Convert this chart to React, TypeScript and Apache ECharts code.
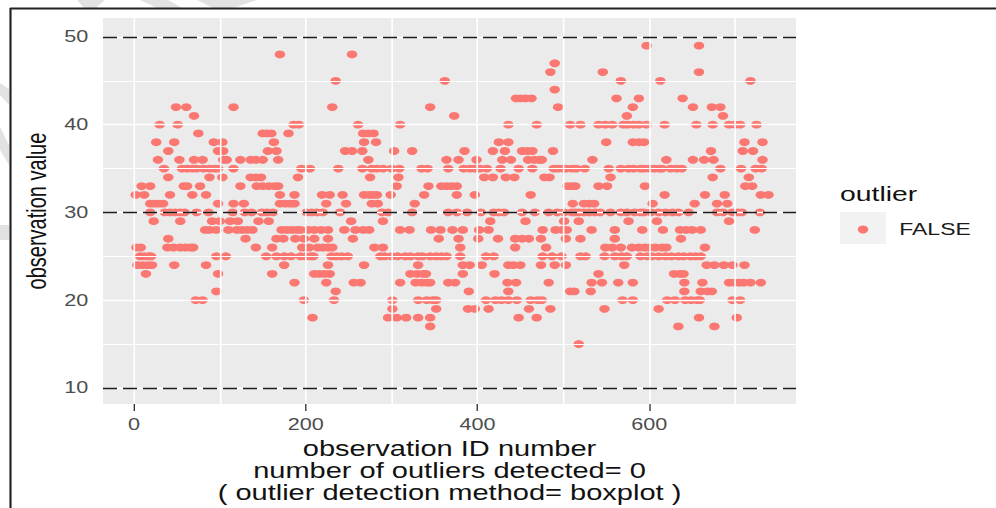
import React, { useEffect, useRef } from "react";
import * as echarts from "echarts";

// The source picture is a horizontally stretched screenshot, so the whole chart is stretched the same way.
const stretch = 1.35;
const pageW = 996;
const pageH = 508;
const sx = (x: number) => x / stretch;

const xTickValues = [0, 200, 400, 600];
const xGridMajor = [0, 200, 400, 600];
const xGridMinor = [100, 300, 500, 700];
const yTickValues = [10, 20, 30, 40, 50];
const yGridMinor = [15, 25, 35, 45];
const thresholds = [10, 30, 50];

const idsAt49 = [597, 658];
const idsAt48 = [170, 254];
const idsAt47 = [490];
const idsAt46 = [485, 546, 658];
const idsAt45 = [235, 362, 567, 613, 718];
const idsAt44 = [490];
const idsAt43 = [445, 450, 456, 463, 562, 588, 639];
const idsAt42 = [49, 61, 116, 231, 345, 494, 581, 651, 673, 683];
const idsAt41 = [70, 373, 574, 686];
const idsAt40 = [30, 51, 186, 192, 261, 310, 436, 469, 508, 520, 541, 549, 557, 570, 575, 582, 588, 597, 618, 655, 674, 693, 700, 706, 725];
const idsAt39 = [75, 150, 155, 160, 180, 267, 273, 279];
const idsAt38 = [26, 47, 93, 103, 163, 268, 282, 425, 436, 550, 581, 588, 594, 711, 732];
const idsAt37 = [40, 98, 104, 156, 166, 246, 254, 266, 303, 324, 385, 418, 432, 452, 458, 464, 488, 672, 709, 721];
const idsAt36 = [28, 53, 70, 80, 104, 108, 124, 136, 142, 150, 168, 273, 364, 378, 399, 429, 439, 459, 466, 472, 475, 534, 620, 651, 664, 675, 732];
const idsAt35 = [35, 56, 62, 68, 73, 81, 88, 94, 98, 116, 195, 205, 238, 266, 277, 283, 290, 300, 309, 335, 342, 366, 384, 391, 397, 403, 411, 427, 448, 464, 489, 494, 500, 503, 510, 515, 525, 553, 567, 576, 582, 590, 594, 600, 606, 612, 615, 625, 632, 638, 683, 707, 724, 731];
const idsAt34 = [40, 88, 103, 136, 142, 148, 191, 275, 308, 408, 418, 433, 443, 478, 484, 555, 674, 716];
const idsAt33 = [9, 19, 58, 62, 77, 124, 143, 150, 157, 164, 168, 306, 343, 358, 364, 370, 376, 505, 510, 514, 541, 551, 595, 712, 720];
const idsAt32 = [2, 12, 42, 68, 84, 170, 187, 219, 228, 243, 268, 274, 279, 283, 299, 338, 376, 397, 462, 618, 665, 688, 730, 739];
const idsAt31 = [19, 24, 29, 34, 98, 116, 128, 170, 176, 182, 187, 224, 247, 277, 284, 327, 511, 524, 530, 536, 604, 653, 679, 691];
const idsAt30 = [19, 36, 42, 48, 54, 59, 73, 87, 115, 129, 137, 149, 155, 162, 201, 207, 213, 220, 240, 289, 296, 324, 366, 376, 388, 404, 419, 425, 431, 452, 467, 483, 493, 501, 510, 514, 518, 524, 530, 537, 543, 555, 567, 574, 583, 590, 594, 602, 611, 619, 627, 634, 646, 679, 686, 697, 703, 708, 729];
const idsAt29 = [23, 54, 91, 100, 112, 121, 145, 157, 253, 290, 415, 456, 501, 518, 576, 609, 693];
const idsAt28 = [83, 88, 96, 110, 120, 126, 132, 138, 172, 178, 184, 190, 194, 203, 210, 218, 226, 245, 258, 267, 274, 310, 321, 346, 357, 371, 383, 402, 413, 476, 491, 499, 504, 533, 560, 592, 616, 636, 643, 650, 660, 723];
const idsAt27 = [40, 130, 166, 174, 188, 198, 210, 226, 255, 355, 378, 401, 424, 444, 452, 460, 474, 503, 520, 560, 637];
const idsAt26 = [3, 8, 39, 46, 54, 60, 66, 69, 142, 161, 196, 204, 214, 220, 226, 231, 280, 290, 380, 444, 480, 549, 557, 567, 580, 588, 595, 600, 607, 615, 620, 665];
const idsAt25 = [7, 12, 17, 20, 96, 107, 154, 166, 175, 183, 194, 200, 206, 209, 230, 236, 242, 249, 287, 292, 300, 307, 316, 322, 331, 336, 345, 352, 358, 364, 380, 410, 419, 476, 487, 498, 520, 526, 548, 560, 568, 574, 590, 598, 603, 611, 619, 626, 634, 640, 648, 654, 660];
const idsAt24 = [4, 10, 16, 21, 47, 84, 175, 226, 268, 331, 383, 391, 405, 436, 442, 450, 474, 490, 503, 571, 667, 676, 687, 697, 711];
const idsAt23 = [14, 98, 161, 210, 216, 222, 228, 322, 330, 337, 340, 383, 420, 541, 629, 636, 640];
const idsAt22 = [187, 224, 256, 264, 310, 328, 335, 341, 345, 366, 374, 435, 445, 483, 533, 545, 564, 581, 641, 662, 693, 699, 705, 710, 718, 730];
const idsAt21 = [96, 235, 390, 436, 508, 513, 532, 641, 660, 668, 673];
const idsAt20 = [72, 80, 198, 233, 301, 331, 341, 348, 352, 410, 421, 428, 436, 446, 462, 470, 475, 569, 581, 621, 630, 642, 649, 656, 659, 697, 706];
const idsAt19 = [301, 352, 389, 397, 413, 460, 485, 548, 611];
const idsAt18 = [208, 296, 306, 317, 331, 345, 448, 469, 658, 702];
const idsAt17 = [345, 634, 676];
const idsAt15 = [518];

const rows: [number, number[]][] = [
  [49, idsAt49], [48, idsAt48], [47, idsAt47], [46, idsAt46], [45, idsAt45], [44, idsAt44], [43, idsAt43],
  [42, idsAt42], [41, idsAt41], [40, idsAt40], [39, idsAt39], [38, idsAt38], [37, idsAt37], [36, idsAt36],
  [35, idsAt35], [34, idsAt34], [33, idsAt33], [32, idsAt32], [31, idsAt31], [30, idsAt30], [29, idsAt29],
  [28, idsAt28], [27, idsAt27], [26, idsAt26], [25, idsAt25], [24, idsAt24], [23, idsAt23], [22, idsAt22],
  [21, idsAt21], [20, idsAt20], [19, idsAt19], [18, idsAt18], [17, idsAt17], [15, idsAt15],
];
const points = rows.flatMap(([value, ids]) => ids.map((id) => [id, value]));

const font = "Liberation Sans";
const panelLeft = 103;
const panelRight = 796;
const panelTop = 18;
const panelBottom = 405;
const watermark = "#e2e2e2";

const gridLine = (axis: "xAxis" | "yAxis", values: number[], width: number) =>
  values.map((v) => ({ [axis]: v, lineStyle: { color: "#ffffff", width, type: "solid" } }));

function poly(points: number[][]) {
  return {
    type: "polygon",
    silent: true,
    z: 0,
    shape: { points: points.map(([x, y]) => [sx(x), y]) },
    style: { fill: watermark },
  };
}

export default function App() {
  const ref = useRef<HTMLDivElement>(null);
  useEffect(() => {
    const chart = echarts.init(ref.current!, undefined, { renderer: "svg" });
    chart.setOption({
      animation: false,
      backgroundColor: "#ffffff",
      grid: {
        left: sx(panelLeft),
        top: panelTop,
        width: sx(panelRight - panelLeft),
        height: panelBottom - panelTop,
        show: true,
        backgroundColor: "#ebebeb",
        borderWidth: 0,
        containLabel: false,
      },
      legend: {
        left: sx(851),
        top: 216,
        itemWidth: 7.8,
        itemHeight: 7.8,
        selectedMode: false,
        data: [{ name: "FALSE", icon: "circle" }],
        textStyle: { fontFamily: font, fontSize: 17, color: "#1a1a1a", padding: [1, 0, 0, 18] },
      },
      xAxis: {
        type: "value",
        min: -36,
        max: 771,
        name: "observation ID number\nnumber of outliers detected= 0\n( outlier detection method= boxplot )",
        nameLocation: "middle",
        nameGap: 32,
        nameTextStyle: { fontFamily: font, fontSize: 21.5, lineHeight: 22, color: "#111111" },
        axisLine: { show: false },
        axisTick: { show: true, length: 7, customValues: xTickValues, lineStyle: { color: "#333333", width: 1 } },
        axisLabel: { customValues: xTickValues, margin: 12, fontFamily: font, fontSize: 16, color: "#4d4d4d" },
        splitLine: { show: false },
      },
      yAxis: {
        type: "value",
        min: 8.15,
        max: 52.16,
        name: "observation value",
        nameLocation: "middle",
        nameGap: 37,
        nameTextStyle: { fontFamily: font, fontSize: 20, color: "#111111" },
        axisLine: { show: false },
        axisTick: { show: true, length: 6, customValues: yTickValues, lineStyle: { color: "#333333", width: 1 } },
        axisLabel: { customValues: yTickValues, margin: 11, fontFamily: font, fontSize: 16, color: "#4d4d4d" },
        splitLine: { show: false },
      },
      series: [
        {
          name: "gridlines",
          type: "scatter",
          z: 1,
          silent: true,
          data: [],
          markLine: {
            silent: true,
            symbol: "none",
            label: { show: false },
            data: [
              ...gridLine("xAxis", xGridMajor, 1.2),
              ...gridLine("xAxis", xGridMinor, 1.2),
              ...gridLine("yAxis", yTickValues, 1.4),
              ...gridLine("yAxis", yGridMinor, 0.9),
            ],
          },
        },
        {
          name: "FALSE",
          type: "scatter",
          z: 3,
          symbol: "circle",
          symbolSize: 7.8,
          itemStyle: { color: "#fb7771", opacity: 1 },
          data: points,
        },
        {
          name: "thresholds",
          type: "scatter",
          z: 4,
          silent: true,
          data: [],
          markLine: {
            silent: true,
            symbol: "none",
            label: { show: false },
            lineStyle: { color: "#1a1a1a", width: 1.3, type: [14 / stretch, 6 / stretch] },
            data: thresholds.map((v) => ({ yAxis: v })),
          },
        },
      ],
      graphic: [
        poly([[77, 0], [105, 0], [96, 8], [84, 8]]),
        poly([[140, 0], [168, 0], [182, 8], [157, 8]]),
        poly([[197, 0], [257, 0], [233, 8], [213, 8]]),
        poly([[0, 83], [9, 89], [9, 105], [0, 95]]),
        poly([[0, 127], [9, 145], [9, 165], [0, 150]]),
        poly([[0, 225], [9, 225], [9, 240], [0, 240]]),
        {
          type: "line",
          silent: true,
          shape: { x1: sx(10), y1: 8.5, x2: sx(pageW), y2: 8.5 },
          style: { stroke: "#222222", lineWidth: 2 },
        },
        {
          type: "line",
          silent: true,
          shape: { x1: sx(10.5), y1: 8, x2: sx(10.5), y2: pageH },
          style: { stroke: "#222222", lineWidth: 1.6 },
        },
        {
          type: "rect",
          silent: true,
          z: -1,
          shape: { x: sx(840), y: 212, width: sx(46), height: 32 },
          style: { fill: "#f2f2f2" },
        },
        {
          type: "text",
          silent: true,
          x: sx(840),
          y: 193,
          style: { text: "outlier", font: `21px ${font}`, fill: "#111111", textAlign: "left", textVerticalAlign: "middle" },
        },
      ],
    });
    return () => chart.dispose();
  }, []);
  return (
    <div style={{ position: "absolute", left: 0, top: 0, width: pageW, height: pageH, overflow: "hidden", background: "#fff" }}>
      <div
        ref={ref}
        style={{ width: pageW / stretch, height: pageH, transform: `scaleX(${stretch})`, transformOrigin: "0 0" }}
      />
    </div>
  );
}
